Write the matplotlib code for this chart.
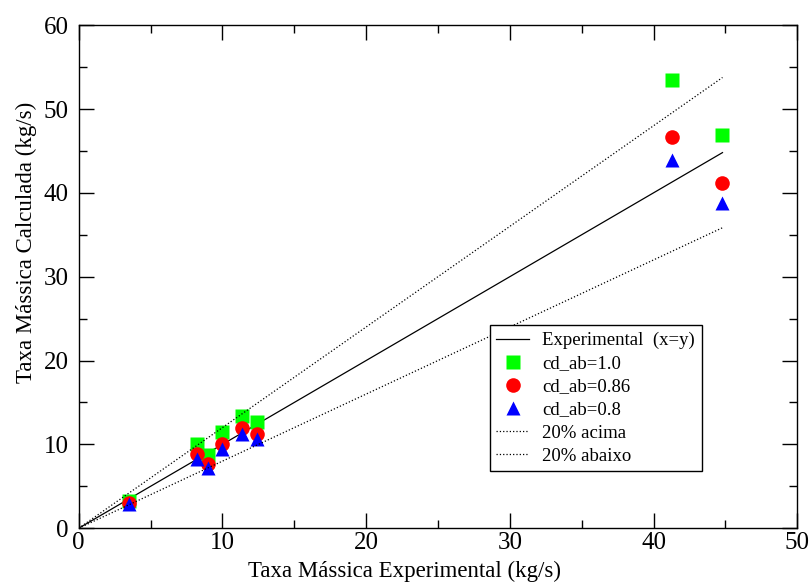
import matplotlib
matplotlib.use("Agg")
import matplotlib.pyplot as plt
import numpy as np

plt.rcParams['font.family'] = ['Liberation Serif', 'DejaVu Serif']

# dados
taxa_exp = [3.5, 8.2, 9.0, 10.0, 11.4, 12.4, 41.3, 44.8]
cd_10 = [3.3, 10.0, 8.7, 11.5, 13.4, 12.7, 53.5, 46.9]
cd_086 = [3.0, 8.8, 7.7, 10.1, 11.9, 11.2, 46.7, 41.2]
cd_08 = [2.9, 8.2, 7.2, 9.5, 11.3, 10.6, 43.9, 38.8]

fig = plt.figure(figsize=(8.11, 5.85), dpi=100)
ax = fig.add_axes([0.097, 0.097, 0.886, 0.86])

xl = np.array([0, max(taxa_exp)])
ax.plot(xl, xl, color='black', lw=0.9, label='Experimental  (x=y)')
ax.plot(taxa_exp, cd_10, 's', color='#00ff00', ms=9.5, mec='none', label='cd_ab=1.0')
ax.plot(taxa_exp, cd_086, 'o', color='#ff0000', ms=10.5, mec='none', label='cd_ab=0.86')
ax.plot(taxa_exp, cd_08, '^', color='#0000ff', ms=10, mec='none', label='cd_ab=0.8')
ax.plot(xl, 1.2 * xl, ':', color='black', lw=0.9, label='20% acima')
ax.plot(xl, 0.8 * xl, ':', color='black', lw=0.9, label='20% abaixo')

ax.set_xlim(0, 50)
ax.set_ylim(0, 60)
ax.set_xticks(range(0, 51, 10))
ax.set_yticks(range(0, 61, 10))
ax.set_xticks(range(5, 50, 10), minor=True)
ax.set_yticks(range(5, 60, 10), minor=True)
ax.tick_params(which='both', direction='in', top=True, right=True, labelsize=18, width=1)
ax.tick_params(which='major', length=11)
ax.tick_params(axis='y', which='major', pad=7)
ax.tick_params(axis='x', which='major', pad=3)
ax.tick_params(which='minor', length=6)
for s in ax.spines.values():
    s.set_linewidth(1)

ax.set_xlabel('Taxa Mássica Experimental (kg/s)', fontsize=16.5)
ax.set_ylabel('Taxa Mássica Calculada (kg/s)', fontsize=16.5)
# rotulos deslocados como no original
ax.xaxis.set_label_coords(0.453, -0.064)
ax.yaxis.set_label_coords(-0.058, 0.569)

leg = ax.legend(loc='lower right', bbox_to_anchor=(0.867, 0.113), fontsize=13.5,
                frameon=True, fancybox=False, edgecolor='black', framealpha=1,
                handlelength=1.75, labelspacing=0.32, borderpad=0.35,
                handletextpad=0.7, borderaxespad=0)
leg.get_frame().set_linewidth(1)

fig.savefig('out.png', dpi=100)
